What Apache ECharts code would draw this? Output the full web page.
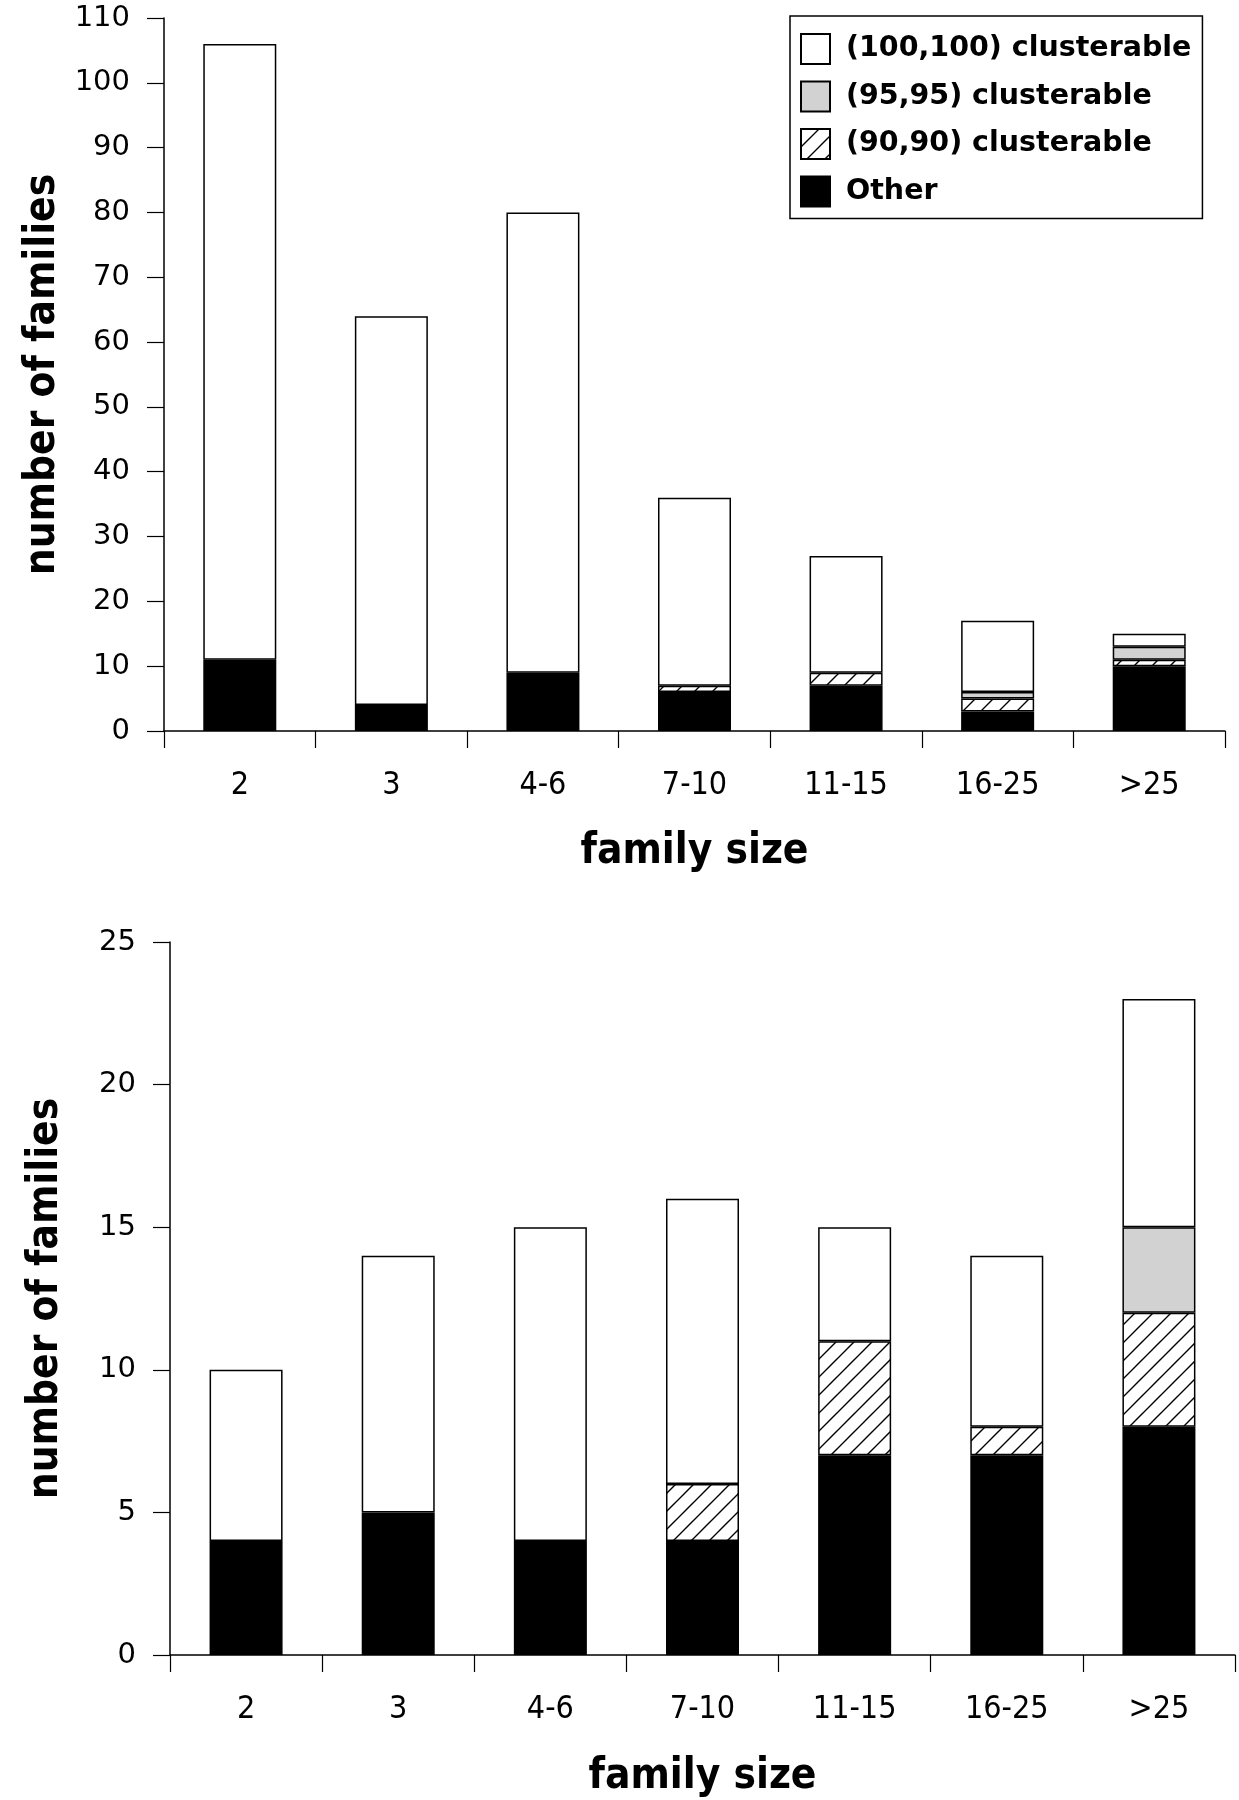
<!DOCTYPE html>
<html>
<head>
<meta charset="utf-8">
<script src="https://cdn.jsdelivr.net/npm/echarts@6/dist/echarts.min.js"></script>
<style>
  html, body { margin: 0; padding: 0; background: #fff; }
  #chart { width: 1239px; height: 1800px; }
</style>
</head>
<body>
<div id="chart"></div>
<script>
const categories = ["2", "3", "4-6", "7-10", "11-15", "16-25", ">25"];
const seriesNames = ["(100,100) clusterable", "(95,95) clusterable", "(90,90) clusterable", "Other"];

// upper panel, stacked from bottom: Other, (90,90), (95,95), (100,100)
const topOther = [11, 4, 9, 6, 7, 3, 10];
const topHatch = [0, 0, 0, 1, 2, 2, 1];
const topGray = [0, 0, 0, 0, 0, 1, 2];
const topWhite = [95, 60, 71, 29, 18, 11, 2];

// lower panel
const botOther = [4, 5, 4, 4, 7, 7, 8];
const botHatch = [0, 0, 0, 2, 4, 1, 4];
const botGray = [0, 0, 0, 0, 0, 0, 3];
const botWhite = [6, 9, 11, 10, 4, 6, 8];

const topTicks = { max: 110, interval: 10 };
const botTicks = { max: 25, interval: 5 };

// diagonal hatch pattern
function hatchCanvas() {
  const s = 18;
  const c = document.createElement("canvas");
  c.width = s; c.height = s;
  const g = c.getContext("2d");
  g.fillStyle = "#fff";
  g.fillRect(0, 0, s, s);
  g.strokeStyle = "#000";
  g.lineWidth = 1.4;
  g.beginPath();
  g.moveTo(-2, s + 2); g.lineTo(s + 2, -2);
  g.moveTo(-2, 2); g.lineTo(2, -2);
  g.moveTo(s - 2, s + 2); g.lineTo(s + 2, s - 2);
  g.stroke();
  return c;
}
const hatch = { image: hatchCanvas(), repeat: "repeat" };

const fills = {
  "(100,100) clusterable": "#ffffff",
  "(95,95) clusterable": "#d2d2d2",
  "(90,90) clusterable": hatch,
  "Other": "#000000"
};

const condFont = "'DejaVu Sans Condensed', 'Liberation Sans Narrow', sans-serif";
const plainFont = "'DejaVu Sans', sans-serif";

const blank = (arr) => arr.map((v) => (v === 0 ? "-" : v));

function bars(idx, stack, data) {
  const order = ["Other", "(90,90) clusterable", "(95,95) clusterable", "(100,100) clusterable"];
  return order.map((name, i) => ({
    name,
    type: "bar",
    stack,
    xAxisIndex: idx,
    yAxisIndex: idx,
    barWidth: 73,
    data: blank(data[i]),
    itemStyle: { color: fills[name], borderColor: "#000", borderWidth: 1.5 },
    emphasis: { disabled: true }
  }));
}

function xAxis(idx, gap) {
  return {
    type: "category",
    gridIndex: idx,
    data: categories,
    axisLine: { lineStyle: { color: "#000", width: 1.5 } },
    axisTick: { show: true, length: 17, lineStyle: { color: "#000", width: 1.2 } },
    axisLabel: { color: "#000", fontFamily: condFont, fontSize: 32, margin: 39 },
    name: "family size",
    nameLocation: "middle",
    nameGap: gap,
    nameTextStyle: { color: "#000", fontFamily: condFont, fontWeight: "bold", fontSize: 42 }
  };
}

function yAxis(idx, t, gap) {
  return {
    type: "value",
    gridIndex: idx,
    min: 0,
    max: t.max,
    interval: t.interval,
    splitLine: { show: false },
    axisLine: { show: true, lineStyle: { color: "#000", width: 1.5 } },
    axisTick: { show: true, length: 17, lineStyle: { color: "#000", width: 1.2 } },
    axisLabel: { color: "#000", fontFamily: plainFont, fontSize: 29, margin: 34 },
    name: "number of families",
    nameLocation: "middle",
    nameGap: gap,
    nameTextStyle: { color: "#000", fontFamily: condFont, fontWeight: "bold", fontSize: 42 }
  };
}

const chart = echarts.init(document.getElementById("chart"), null, { renderer: "canvas" });
chart.setOption({
  animation: false,
  backgroundColor: "#fff",
  grid: [
    { left: 164, right: 14, top: 18, height: 713 },
    { left: 170, right: 4, top: 942, height: 713 }
  ],
  legend: {
    data: seriesNames,
    orient: "vertical",
    left: 790,
    top: 16,
    padding: [17, 11, 11, 10],
    itemWidth: 29,
    itemHeight: 30,
    itemGap: 15.5,
    borderColor: "#000",
    borderWidth: 1.5,
    icon: "rect",
    selectedMode: false,
    textStyle: { color: "#000", fontFamily: plainFont, fontWeight: "bold", fontSize: 28.5, lineHeight: 30, padding: [0, 0, 0, 11] }
  },
  xAxis: [xAxis(0, 100), xAxis(1, 101)],
  yAxis: [yAxis(0, topTicks, 91), yAxis(1, botTicks, 103)],
  series: [
    ...bars(0, "top", [topOther, topHatch, topGray, topWhite]),
    ...bars(1, "bot", [botOther, botHatch, botGray, botWhite])
  ]
});
</script>
</body>
</html>
